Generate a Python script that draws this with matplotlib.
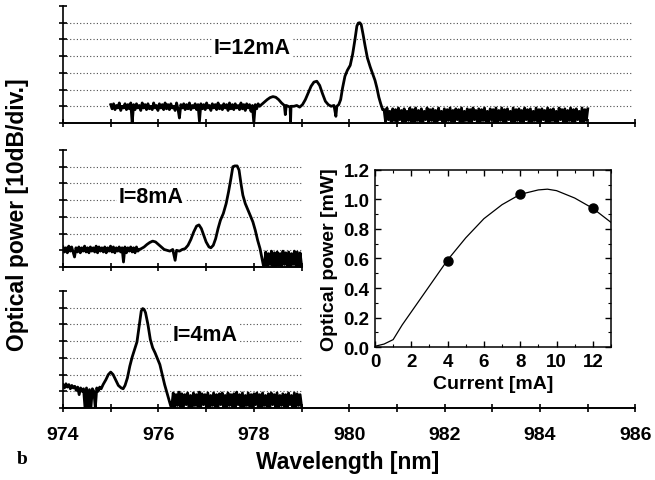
import numpy as np
import matplotlib
matplotlib.use('Agg')
import matplotlib.pyplot as plt

plt.rcParams['font.family'] = ['Liberation Sans', 'DejaVu Sans']
plt.rcParams['font.weight'] = 'bold'
plt.rcParams['axes.labelweight'] = 'bold'

# ---- spectra, level in dB (10 dB per division) ----
# I = 12 mA
top_noise_a_span = (975.0, 978.12)
top_noise_a = [-59, -61.5, -58.5, -62, -59.5, -61, -58, -62.5, -60, -61,
               -58.5, -62, -59, -61.5, -58, -70, -59, -62, -58.5, -61,
               -59.5, -62.5, -58, -61, -59, -62, -58.5, -61.5, -60, -62,
               -58, -61, -59.5, -62.5, -58.5, -61, -59, -62, -58, -61.5,
               -59, -62, -58.5, -61, -60, -62.5, -58, -61.5, -67, -59,
               -61, -58.5, -62, -59, -61.5, -58, -62, -59.5, -61, -58.5,
               -62, -59, -69, -58.5, -61.5, -59, -62, -58, -61, -59.5,
               -62.5, -58.5, -61, -59, -62, -58, -61.5, -59.5, -62, -58.5,
               -61, -59, -62.5, -58, -61.5, -59, -62, -58.5, -61, -59.5,
               -62, -58, -61.5, -59, -62.5, -58.5, -61, -59, -63, -59.5,
               -70, -59, -61.5, -58.5, -60]
top_peak_wl = [978.16, 978.22, 978.28, 978.34, 978.40, 978.46, 978.52, 978.58, 978.64, 978.66,
               978.68, 978.72, 978.76, 978.77, 978.78, 978.84, 978.90, 978.96, 979.02, 979.08,
               979.14, 979.20, 979.26, 979.32, 979.38, 979.44, 979.50, 979.56, 979.62, 979.68,
               979.72, 979.74, 979.78, 979.82, 979.86, 979.91, 979.96, 980.02, 980.07, 980.12,
               980.16, 980.19, 980.22, 980.25, 980.29, 980.33, 980.38, 980.44, 980.49, 980.54,
               980.58, 980.62, 980.66, 980.70]
top_peak_db = [-59, -57.5, -56, -54.8, -54.2, -54.6, -56, -58, -59.5, -65,
               -59.5, -60, -60.5, -69, -60, -60, -59.5, -60.5, -59, -56,
               -52, -48, -45.5, -45, -47.5, -52.5, -57, -59, -60, -59.5,
               -66, -60, -59, -56, -49, -42, -38.5, -35.5, -29, -20,
               -12, -10.2, -10, -11, -17, -23.5, -31, -36.5, -40.5, -44.5,
               -49, -54.5, -58.5, -62]
top_noise_b_span = (980.73, 985.0)
top_noise_b = [-62, -69, -61, -68, -63, -70, -61.5, -68.5, -62, -69.5,
               -61, -68, -62.5, -70, -61.5, -69, -63, -68.5, -61, -69.5,
               -62, -70, -61, -68.5, -62.5, -69, -61.5, -70, -63, -68,
               -61, -69.5, -62, -68.5, -61.5, -70, -62.5, -69, -61, -68,
               -63, -69.5, -61.5, -70, -62, -68.5, -61, -69, -62.5, -70,
               -61.5, -68, -62, -69.5, -61, -70, -63, -68.5, -61.5, -69,
               -62, -70, -61, -68, -62.5, -69.5, -61.5, -70, -62, -68.5,
               -61, -69, -63, -70, -61.5, -68, -62, -69.5, -61, -70,
               -62.5, -68.5, -61, -69, -62, -70, -61.5, -68, -63, -69.5,
               -61, -70, -62, -68.5, -61.5, -69, -62.5, -70, -61, -68,
               -62, -69.5, -61.5, -70, -63, -68.5, -61, -69, -62, -70,
               -61.5, -68, -62.5, -69.5, -61, -70, -62, -68.5, -61.5, -69,
               -63, -70, -61, -68, -62, -69.5, -61.5, -70, -62.5, -68.5,
               -61, -69, -62, -70, -61.5, -68, -63, -69.5, -61, -70,
               -62, -68.5, -61.5]

# I = 8 mA
mid_noise_a_span = (974.0, 975.6)
mid_noise_a = [-58, -61, -58.5, -61.5, -57.5, -60.5, -58, -61, -64, -58.5,
               -61, -58, -61.5, -58.5, -60.5, -57.5, -61, -58.5, -61.5, -58,
               -60.5, -58.5, -61, -57.5, -61.5, -58, -60.5, -58.5, -61, -58,
               -61.5, -58.5, -60.5, -57.5, -61, -58, -61.5, -58.5, -60.5, -58,
               -61, -58.5, -67, -58, -61.5, -58.5, -60.5, -58, -61, -58.5,
               -61.5, -58, -60.5, -59.5]
mid_peak_wl = [975.64, 975.70, 975.76, 975.82, 975.88, 975.94, 976.00, 976.06, 976.12, 976.18,
               976.24, 976.30, 976.35, 976.38, 976.44, 976.50, 976.56, 976.62, 976.68, 976.74,
               976.80, 976.85, 976.90, 976.95, 977.00, 977.06, 977.10, 977.15, 977.20, 977.25,
               977.30, 977.36, 977.42, 977.47, 977.52, 977.56, 977.60, 977.65, 977.69, 977.73,
               977.77, 977.82, 977.88, 977.93, 977.98, 978.03, 978.08, 978.13, 978.18, 978.20]
mid_peak_db = [-59, -58, -56.5, -55.3, -54.5, -55, -56.5, -58, -59.5, -60,
               -60.5, -59.5, -66, -60, -60.5, -59.5, -59, -57, -53.5, -49,
               -45.5, -44.8, -47, -51, -55, -58, -58.5, -57, -53, -47,
               -42, -38, -32, -25, -17, -10, -9.5, -9.5, -12, -20,
               -27, -32, -36, -39.5, -43, -48, -54, -59, -66, -69]
mid_noise_b_span = (978.22, 979.0)
mid_noise_b = [-69, -61, -70, -62, -68.5, -60.5, -69.5, -61.5, -70, -61,
               -69, -62, -70, -60.5, -68.5, -61.5, -69.5, -61, -70, -62,
               -68.5, -60.5, -69.5, -61, -70, -61.5, -69]

# I = 4 mA
bot_noise_a_span = (974.0, 974.8)
bot_noise_a = [-56, -58, -55.5, -57.5, -56, -58.5, -56.5, -58, -57, -59.5,
               -57.5, -62, -58, -60, -58.5, -70, -58, -70, -59, -70,
               -58.5, -60, -70, -58, -60, -57.5, -58.5]
bot_peak_wl = [974.84, 974.90, 974.95, 975.00, 975.05, 975.10, 975.16, 975.22, 975.26, 975.30,
               975.35, 975.40, 975.45, 975.50, 975.55, 975.60, 975.64, 975.67, 975.70, 975.73,
               975.78, 975.83, 975.88, 975.93, 975.98, 976.03, 976.08, 976.13, 976.17, 976.20,
               976.24, 976.26]
bot_peak_db = [-56, -53, -50, -48.5, -50, -53, -56.5, -58, -58.5, -56.5,
               -52, -45, -39.5, -35, -30.5, -20, -12, -10.5, -11, -13,
               -20, -29, -34, -37, -40.5, -44, -50, -56, -60, -63,
               -67, -69]
bot_noise_b_span = (976.28, 979.0)
bot_noise_b = [-69, -61, -70, -62, -68.5, -60.5, -69.5, -61.5, -70, -62,
               -68, -61, -69.5, -62.5, -70, -61, -68.5, -62, -69, -60.5,
               -70, -61.5, -68, -62, -69.5, -61, -70, -62.5, -68.5, -61,
               -69, -62, -70, -61.5, -68, -61, -69.5, -62.5, -70, -61,
               -68.5, -62, -69, -61.5, -70, -60.5, -68, -62, -69.5, -61,
               -70, -62.5, -68.5, -61, -69, -62, -70, -61.5, -68, -61,
               -69.5, -62, -70, -61, -68.5, -62.5, -69, -61.5, -70, -61,
               -68, -62, -69.5, -61, -70, -62.5, -68.5, -61.5, -69, -62,
               -70, -61, -68, -62.5, -69.5, -61, -70, -61.5, -68.5, -62,
               -69]

# ---- inset: optical power vs current ----
current = [0, 0.5, 1.0, 1.5, 2, 3, 4, 5, 6, 7, 8, 9, 9.5, 10, 11, 12, 13]
power = [0.005, 0.02, 0.05, 0.15, 0.238, 0.414, 0.59, 0.74, 0.87, 0.965,
         1.035, 1.065, 1.07, 1.06, 1.01, 0.94, 0.845]
meas_current = [4, 8, 12]
meas_power = [0.585, 1.04, 0.945]


def build_trace(noise_a, span_a, peak_wl, peak_db, noise_b, span_b):
    wl = np.concatenate([np.linspace(span_a[0], span_a[1], len(noise_a)),
                         peak_wl,
                         np.linspace(span_b[0], span_b[1], len(noise_b))])
    db = np.concatenate([noise_a, peak_db, noise_b])
    return wl, db


def setup_panel(ax, grid_end, spine_end):
    ax.set_xlim(974, 986)
    ax.set_ylim(-70, 0)
    ax.set_facecolor('none')
    ax.spines['top'].set_visible(False)
    ax.spines['right'].set_visible(False)
    ax.spines['left'].set_linewidth(1.2)
    ax.spines['bottom'].set_linewidth(1.4)
    ax.spines['bottom'].set_bounds(974, spine_end)
    ax.set_xticks(np.arange(974, spine_end + 1))
    ax.set_yticks(np.arange(-70, 1, 10))
    ax.tick_params(direction='inout', length=6, width=1.2,
                   labelleft=False, labelbottom=False)
    ax.hlines(np.arange(-60, -9, 10), 974, grid_end, colors='0.3',
              linestyles=(0, (1, 2)), linewidth=0.8, zorder=0)


fig = plt.figure(figsize=(6.55, 4.81), dpi=100)

ax_top = fig.add_axes([0.0962, 0.7422, 0.874, 0.2432])
ax_mid = fig.add_axes([0.0962, 0.4428, 0.874, 0.2432])
ax_bot = fig.add_axes([0.0962, 0.1497, 0.874, 0.2432])

setup_panel(ax_top, 985.95, 986)
setup_panel(ax_mid, 979.0, 979)
setup_panel(ax_bot, 979.0, 986)

wl, db = build_trace(top_noise_a, top_noise_a_span, top_peak_wl, top_peak_db,
                     top_noise_b, top_noise_b_span)
ax_top.plot(wl, db, color='black', lw=2.0)
wl, db = build_trace(mid_noise_a, mid_noise_a_span, mid_peak_wl, mid_peak_db,
                     mid_noise_b, mid_noise_b_span)
ax_mid.plot(wl, db, color='black', lw=2.0)
wl, db = build_trace(bot_noise_a, bot_noise_a_span, bot_peak_wl, bot_peak_db,
                     bot_noise_b, bot_noise_b_span)
ax_bot.plot(wl, db, color='black', lw=2.0)

box = dict(facecolor='white', edgecolor='none', pad=1)
ax_top.text(977.96, -24.7, 'I=12mA', fontsize=15.5, ha='center', va='center', bbox=box)
ax_mid.text(975.84, -27.8, 'I=8mA', fontsize=15.5, ha='center', va='center', bbox=box)
ax_bot.text(976.98, -26.0, 'I=4mA', fontsize=15.5, ha='center', va='center', bbox=box)

# bottom axis labels
ax_bot.set_xticks(np.arange(974, 987, 2), labels=[str(v) for v in range(974, 987, 2)])
ax_bot.set_xticks(np.arange(975, 986, 2), minor=True)
ax_bot.tick_params(axis='x', which='both', direction='inout', length=6, width=1.2,
                   labelbottom=True, labelsize=14, pad=10)

fig.text(348 / 655, 1 - 463 / 481, 'Wavelength [nm]', fontsize=16.5,
         ha='center', va='center')
fig.text(18 / 655, 1 - 215 / 481, 'Optical power [10dB/div.]', fontsize=16.5,
         ha='center', va='center', rotation=90)
fig.text(22 / 655, 1 - 460 / 481, 'b', fontsize=14, ha='center', va='center',
         family='Liberation Serif', weight='bold')

# inset
ax_in = fig.add_axes([0.5725, 0.2765, 0.3603, 0.368])
ax_in.set_facecolor('white')
ax_in.plot(current, power, color='black', lw=0.9)
ax_in.plot(meas_current, meas_power, 'o', color='black', markersize=6.5)
ax_in.set_xlim(0, 13)
ax_in.set_ylim(0, 1.2)
ax_in.set_xticks(np.arange(0, 13, 2))
ax_in.set_xticks(np.arange(0, 14, 1), minor=True)
ax_in.set_yticks(np.arange(0, 1.21, 0.2))
ax_in.set_yticks(np.arange(0, 1.21, 0.1), minor=True)
ax_in.set_yticklabels(['%.1f' % v for v in np.arange(0, 1.21, 0.2)])
ax_in.tick_params(which='both', direction='in', top=True, right=True,
                  labelsize=13.5, pad=4)
ax_in.tick_params(which='major', length=4, width=1)
ax_in.tick_params(which='minor', length=2.5, width=0.8)
for lab in ax_in.get_xticklabels() + ax_in.get_yticklabels():
    lab.set_fontweight('bold')
for s in ax_in.spines.values():
    s.set_linewidth(1.1)
ax_in.set_xlabel('Current [mA]', fontsize=14, fontweight='bold', labelpad=4)
ax_in.set_ylabel('Optical power [mW]', fontsize=14, fontweight='bold', labelpad=4)

fig.savefig('out.png', dpi=100)
